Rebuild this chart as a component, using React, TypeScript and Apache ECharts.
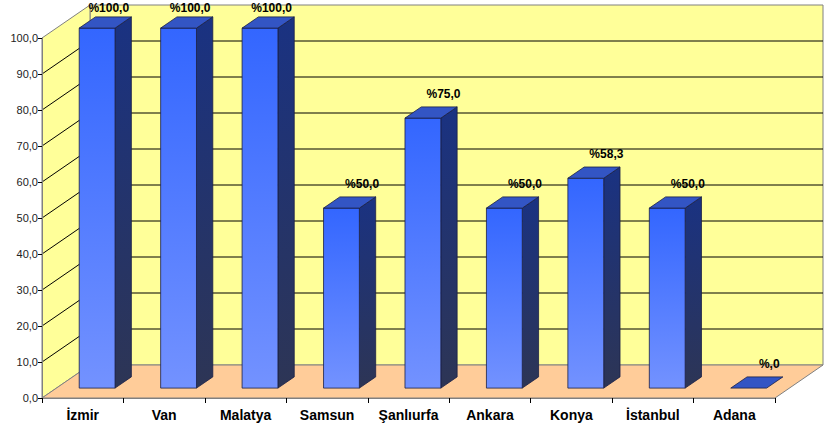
import React, { useEffect, useRef } from "react";
import * as echarts from "echarts";

const categories = ["İzmir", "Van", "Malatya", "Samsun", "Şanlıurfa", "Ankara", "Konya", "İstanbul", "Adana"];
const values = [100, 100, 100, 50, 75, 50, 58.3, 50, 0];
const gridTicks = [10, 20, 30, 40, 50, 60, 70, 80, 90];

const DX = 48;
const DY = -33;
const F0 = 0.3;
const F1 = 0.64;

function axisFmt(v: number) {
  return v.toFixed(1).replace(".", ",");
}
function labelFmt(v: number) {
  const s = v.toFixed(1).replace(".", ",");
  return "%" + (s.startsWith("0,") ? s.slice(1) : s);
}

export default function App() {
  const ref = useRef<HTMLDivElement>(null);
  useEffect(() => {
    if (!ref.current) return;
    const chart = echarts.init(ref.current, null, { renderer: "svg" });
    const wallSeries = {
      type: "custom",
      z: 1,
      silent: true,
      clip: false,
      data: [[0]],
      renderItem: (params: any, api: any) => {
        const cs = params.coordSys;
        const l = cs.x, r = cs.x + cs.width, t = cs.y, b = cs.y + cs.height;
        const children: any[] = [];
        children.push({
          type: "polygon",
          shape: { points: [[l + DX, t + DY], [r + DX, t + DY], [r + DX, b + DY], [l + DX, b + DY]] },
          style: { fill: "#FFFF99", stroke: "#808080", lineWidth: 1 },
        });
        children.push({
          type: "polygon",
          shape: { points: [[l, t], [l + DX, t + DY], [l + DX, b + DY], [l, b]] },
          style: { fill: "#FFFF99", stroke: "#808080", lineWidth: 1 },
        });
        children.push({
          type: "polygon",
          shape: { points: [[l, b], [l + DX, b + DY], [r + DX, b + DY], [r, b]] },
          style: { fill: "#FFCC99", stroke: "#808080", lineWidth: 1 },
        });
        gridTicks.forEach((v) => {
          const y = api.coord([0, v])[1];
          children.push({
            type: "line",
            shape: { x1: l + DX, y1: y + DY, x2: r + DX, y2: y + DY },
            style: { stroke: "#000000", lineWidth: 1 },
          });
          children.push({
            type: "line",
            shape: { x1: l, y1: y, x2: l + DX, y2: y + DY },
            style: { stroke: "#000000", lineWidth: 1 },
          });
        });
        return { type: "group", children };
      },
    };

    const barSeries = {
      type: "custom",
      z: 5,
      clip: false,
      data: values.map((v, i) => [i, v]),
      renderItem: (params: any, api: any) => {
        const idx = api.value(0);
        const val = api.value(1);
        const p0 = api.coord([idx, 0]);
        const p1 = api.coord([idx, val]);
        const cw = api.size([1, 0])[0];
        const w = cw * 0.44;
        const ox0 = DX * F0, oy0 = DY * F0;
        const ox1 = DX * F1, oy1 = DY * F1;
        const xl = p0[0] - w / 2 + ox0;
        const xr = p0[0] + w / 2 + ox0;
        const yb = p0[1] + oy0;
        const yt = p1[1] + oy0;
        const bdx = ox1 - ox0, bdy = oy1 - oy0;
        const stroke = "#1a1f45";
        const children: any[] = [];
        if (yb - yt > 0.5) {
          children.push({
            type: "polygon",
            shape: { points: [[xr, yt], [xr + bdx, yt + bdy], [xr + bdx, yb + bdy], [xr, yb]] },
            style: {
              fill: new echarts.graphic.LinearGradient(0, 0, 0, 1, [
                { offset: 0, color: "#1a3282" },
                { offset: 1, color: "#2d3555" },
              ]),
              stroke,
              lineWidth: 0.8,
            },
          });
          children.push({
            type: "rect",
            shape: { x: xl, y: yt, width: xr - xl, height: yb - yt },
            style: {
              fill: new echarts.graphic.LinearGradient(0, 0, 0, 1, [
                { offset: 0, color: "#3366ff" },
                { offset: 1, color: "#7392ff" },
              ]),
              stroke,
              lineWidth: 0.8,
            },
          });
        }
        children.push({
          type: "polygon",
          shape: { points: [[xl, yt], [xr, yt], [xr + bdx, yt + bdy], [xl + bdx, yt + bdy]] },
          style: { fill: "#3355c4", stroke, lineWidth: 0.8 },
        });
        let ly = yt + bdy - 13;
        let lx = p0[0] + 35;
        if (ly < 8) {
          ly = 8;
          lx = p0[0] + 26;
        }
        children.push({
          type: "text",
          x: lx,
          y: ly,
          style: {
            text: labelFmt(val),
            fill: "#000",
            font: "bold 12px 'Liberation Sans', Arial, sans-serif",
            align: "center",
            verticalAlign: "middle",
          },
        });
        return { type: "group", children };
      },
    };

    chart.setOption({
      animation: false,
      grid: { left: 42, right: 65, top: 38, bottom: 34 },
      xAxis: {
        type: "category",
        data: categories,
        boundaryGap: true,
        axisLine: { show: true, lineStyle: { color: "#808080", width: 1 } },
        axisTick: { show: true, length: 5, lineStyle: { color: "#000" } },
        axisLabel: {
          color: "#000",
          fontWeight: "bold",
          fontSize: 14,
          fontFamily: "'Liberation Sans', Arial, sans-serif",
          margin: 10,
          interval: 0,
        },
        splitLine: { show: false },
        z: 10,
      },
      yAxis: {
        type: "value",
        min: 0,
        max: 100,
        interval: 10,
        axisLine: { show: true, lineStyle: { color: "#808080", width: 1 } },
        axisTick: { show: true, length: 4, lineStyle: { color: "#000" } },
        axisLabel: {
          color: "#222",
          fontSize: 11,
          fontFamily: "'Liberation Sans', Arial, sans-serif",
          margin: 4,
          formatter: (v: number) => axisFmt(v),
        },
        splitLine: { show: false },
        z: 10,
      },
      series: [wallSeries, barSeries],
    });
    return () => chart.dispose();
  }, []);
  return <div ref={ref} style={{ width: 840, height: 432, position: "absolute", left: 0, top: 0 }} />;
}
